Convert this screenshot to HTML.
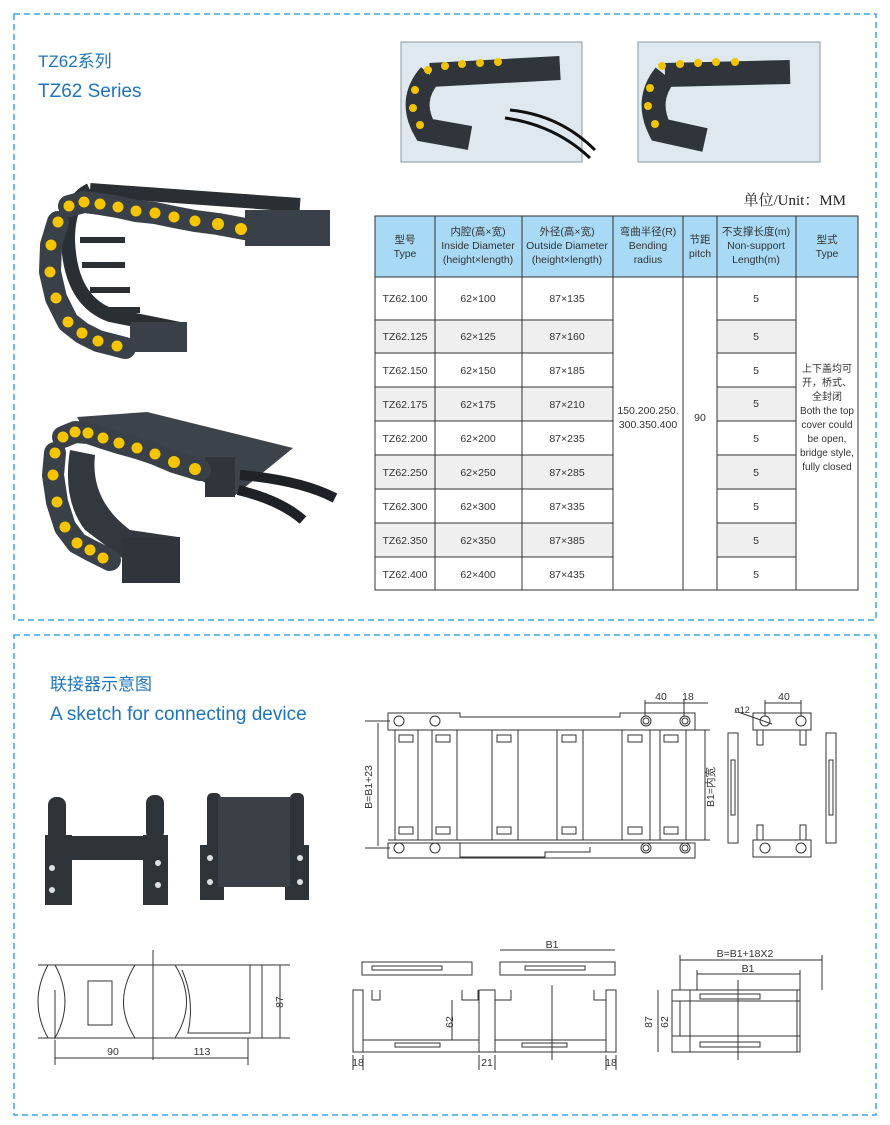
<!DOCTYPE html>
<html><head><meta charset="utf-8"><style>
body{margin:0;background:#fff;}
svg{display:block;font-family:"Liberation Sans","Noto Sans CJK SC",sans-serif;}
</style></head><body>
<svg width="890" height="1125" viewBox="0 0 890 1125" xmlns="http://www.w3.org/2000/svg">
<rect x="14" y="14" width="862" height="606" fill="none" stroke="#3aa6e0" stroke-width="1.5" stroke-dasharray="6,4"/>
<rect x="14" y="635" width="862" height="480" fill="none" stroke="#3aa6e0" stroke-width="1.5" stroke-dasharray="6,4"/>
<text x="38" y="67" font-size="17" fill="#1e74bd">TZ62系列</text>
<text x="38" y="97" font-size="19" fill="#1e74bd">TZ62 Series</text>
<text x="50" y="690" font-size="17" fill="#1e74bd">联接器示意图</text>
<text x="50" y="720" font-size="19" fill="#1e74bd">A sketch for connecting device</text>

<!-- top photos -->
<rect x="401" y="42" width="181" height="120" fill="#dfe8ef" stroke="#8a98a6"/>
<path d="M430 75 L560 68 M430 75 Q408 100 425 130 L470 138" stroke="#2f353b" stroke-width="24" fill="none"/>
<path d="M510 110 Q560 115 595 150" stroke="#111" stroke-width="3" fill="none"/>
<path d="M505 118 Q555 125 590 158" stroke="#111" stroke-width="3" fill="none"/>
<g fill="#f2c400"><circle cx="428" cy="70" r="4"/><circle cx="445" cy="66" r="4"/><circle cx="462" cy="64" r="4"/><circle cx="480" cy="63" r="4"/><circle cx="498" cy="62" r="4"/><circle cx="415" cy="90" r="4"/><circle cx="413" cy="108" r="4"/><circle cx="420" cy="125" r="4"/></g>
<rect x="638" y="42" width="182" height="120" fill="#dfe8ef" stroke="#8a98a6"/>
<path d="M665 75 L790 72 M665 75 Q645 100 660 130 L705 140" stroke="#2f353b" stroke-width="24" fill="none"/>
<g fill="#f2c400"><circle cx="662" cy="66" r="4"/><circle cx="680" cy="64" r="4"/><circle cx="698" cy="63" r="4"/><circle cx="716" cy="62" r="4"/><circle cx="735" cy="62" r="4"/><circle cx="650" cy="88" r="4"/><circle cx="648" cy="106" r="4"/><circle cx="655" cy="124" r="4"/></g>

<!-- chain photo 1 -->
<path d="M90 190 L300 205 M90 190 Q68 200 68 240 Q70 300 110 315 L185 330" stroke="#2a2f34" stroke-width="14" fill="none"/>
<path d="M80 240H125M82 265H125M90 290H130M100 310H140" stroke="#2a2f34" stroke-width="6"/>
<rect x="245" y="210" width="85" height="36" fill="#3a4047"/>
<rect x="130" y="322" width="57" height="30" fill="#3a4047"/>
<path d="M69 206 L84 202 L100 204 L118 207 L136 211 L155 213 L174 217 L195 221 L218 224 L245 229 M58 222 L51 245 L50 272 L56 298 L68 322 L82 333 L98 341 L125 348" stroke="#3a4047" stroke-width="22" fill="none" stroke-linejoin="round" stroke-linecap="round"/>
<g fill="#f4c500">
<circle cx="69" cy="206" r="5.5"/><circle cx="84" cy="202" r="5.5"/><circle cx="100" cy="204" r="5.5"/><circle cx="118" cy="207" r="5.5"/><circle cx="136" cy="211" r="5.5"/><circle cx="155" cy="213" r="5.5"/><circle cx="174" cy="217" r="5.5"/><circle cx="195" cy="221" r="5.5"/><circle cx="218" cy="224" r="6"/><circle cx="241" cy="229" r="6"/>
<circle cx="58" cy="222" r="5.5"/><circle cx="51" cy="245" r="5.5"/><circle cx="50" cy="272" r="5.5"/><circle cx="56" cy="298" r="5.5"/><circle cx="68" cy="322" r="5.5"/><circle cx="82" cy="333" r="5.5"/><circle cx="98" cy="341" r="5.5"/><circle cx="117" cy="346" r="5.5"/></g>

<!-- chain photo 2 -->
<polygon points="77,417 147,412 293,448 233,497 200,480 90,440" fill="#3d434a"/>
<path d="M70 450 Q62 500 85 530 L125 560 L178 565 L178 537 L130 530 Q90 500 95 455Z" fill="#33383e"/>
<rect x="205" y="457" width="30" height="40" fill="#2f353b"/>
<rect x="122" y="537" width="58" height="46" fill="#2f353b"/>
<path d="M240 475 Q300 480 335 498" stroke="#1e2226" stroke-width="10" fill="none"/>
<path d="M238 490 Q280 500 303 520" stroke="#1e2226" stroke-width="10" fill="none"/>
<path d="M63 437 L75 432 L88 433 L103 438 L119 443 L137 448 L155 454 L174 462 L200 470 M55 453 L53 475 L57 502 L65 527 L77 543 L90 550 L110 560" stroke="#3a4047" stroke-width="22" fill="none" stroke-linejoin="round" stroke-linecap="round"/>
<g fill="#f4c500">
<circle cx="63" cy="437" r="5.5"/><circle cx="75" cy="432" r="5.5"/><circle cx="88" cy="433" r="5.5"/><circle cx="103" cy="438" r="5.5"/><circle cx="119" cy="443" r="5.5"/><circle cx="137" cy="448" r="5.5"/><circle cx="155" cy="454" r="5.5"/><circle cx="174" cy="462" r="6"/><circle cx="195" cy="469" r="6"/>
<circle cx="55" cy="453" r="5.5"/><circle cx="53" cy="475" r="5.5"/><circle cx="57" cy="502" r="5.5"/><circle cx="65" cy="527" r="5.5"/><circle cx="77" cy="543" r="5.5"/><circle cx="90" cy="550" r="5.5"/><circle cx="103" cy="558" r="5.5"/></g>

<!-- unit -->
<text x="846" y="205" font-size="15" font-family="Liberation Serif,Noto Serif CJK SC,serif" text-anchor="end" fill="#222">单位/Unit：MM</text>

<!-- table -->
<g font-size="10.5" fill="#333" text-anchor="middle">
<rect x="375" y="216" width="483" height="61" fill="#a8d9f5"/>
<g fill="#efefef">
<rect x="375" y="320" width="238" height="33"/><rect x="717" y="320" width="79" height="33"/>
<rect x="375" y="387" width="238" height="34"/><rect x="717" y="387" width="79" height="34"/>
<rect x="375" y="455" width="238" height="34"/><rect x="717" y="455" width="79" height="34"/>
<rect x="375" y="523" width="238" height="34"/><rect x="717" y="523" width="79" height="34"/>
</g>
<g stroke="#333" stroke-width="1" fill="none">
<rect x="375" y="216" width="483" height="374"/>
<line x1="375" y1="277" x2="858" y2="277"/>
<path d="M435 216V590M522 216V590M613 216V590M683 216V590M717 216V590M796 216V590"/>
<path d="M375 320H613M375 353H613M375 387H613M375 421H613M375 455H613M375 489H613M375 523H613M375 557H613"/>
<path d="M717 320H796M717 353H796M717 387H796M717 421H796M717 455H796M717 489H796M717 523H796M717 557H796"/>
</g>
<text x="405" y="243">型号</text><text x="405" y="257">Type</text>
<text x="478" y="235">内腔(高×宽)</text><text x="478" y="249">Inside Diameter</text><text x="478" y="263">(height×length)</text>
<text x="567" y="235">外径(高×宽)</text><text x="567" y="249">Outside Diameter</text><text x="567" y="263">(height×length)</text>
<text x="648" y="235">弯曲半径(R)</text><text x="648" y="249">Bending</text><text x="648" y="263">radius</text>
<text x="700" y="243">节距</text><text x="700" y="257">pitch</text>
<text x="756" y="235">不支撑长度(m)</text><text x="756" y="249">Non-support</text><text x="756" y="263">Length(m)</text>
<text x="827" y="243">型式</text><text x="827" y="257">Type</text>
<g>
<text x="405" y="302">TZ62.100</text><text x="478" y="302">62×100</text><text x="567" y="302">87×135</text><text x="756" y="302">5</text>
<text x="405" y="340">TZ62.125</text><text x="478" y="340">62×125</text><text x="567" y="340">87×160</text><text x="756" y="340">5</text>
<text x="405" y="374">TZ62.150</text><text x="478" y="374">62×150</text><text x="567" y="374">87×185</text><text x="756" y="374">5</text>
<text x="405" y="408">TZ62.175</text><text x="478" y="408">62×175</text><text x="567" y="408">87×210</text><text x="756" y="407">5</text>
<text x="405" y="442">TZ62.200</text><text x="478" y="442">62×200</text><text x="567" y="442">87×235</text><text x="756" y="442">5</text>
<text x="405" y="476">TZ62.250</text><text x="478" y="476">62×250</text><text x="567" y="476">87×285</text><text x="756" y="476">5</text>
<text x="405" y="510">TZ62.300</text><text x="478" y="510">62×300</text><text x="567" y="510">87×335</text><text x="756" y="510">5</text>
<text x="405" y="544">TZ62.350</text><text x="478" y="544">62×350</text><text x="567" y="544">87×385</text><text x="756" y="544">5</text>
<text x="405" y="578">TZ62.400</text><text x="478" y="578">62×400</text><text x="567" y="578">87×435</text><text x="756" y="578">5</text>
</g>
<text x="648" y="414">150.200.250.</text><text x="648" y="428">300.350.400</text>
<text x="700" y="421">90</text>
<g font-size="10"><text x="827" y="372">上下盖均可</text><text x="827" y="386">开，桥式、</text><text x="827" y="400">全封闭</text>
<text x="827" y="414">Both the top</text><text x="827" y="428">cover could</text><text x="827" y="442">be open,</text><text x="827" y="456">bridge style,</text><text x="827" y="470">fully closed</text></g>
</g>

<!-- bracket photos -->
<g fill="#2e3338">
<rect x="45" y="835" width="27" height="70"/><rect x="48" y="797" width="18" height="45" rx="8"/>
<rect x="143" y="835" width="25" height="70"/><rect x="146" y="795" width="18" height="45" rx="8"/>
<rect x="65" y="836" width="82" height="24"/>
<rect x="200" y="845" width="24" height="55"/><rect x="285" y="845" width="24" height="55"/>
<rect x="207" y="793" width="14" height="60" rx="5"/><rect x="290" y="793" width="14" height="60" rx="5"/>
<rect x="218" y="797" width="72" height="90" fill="#3a4046"/>
</g>
<g fill="#fff" opacity=".85"><circle cx="52" cy="868" r="3"/><circle cx="52" cy="890" r="3"/><circle cx="158" cy="863" r="3"/><circle cx="158" cy="885" r="3"/><circle cx="210" cy="858" r="3"/><circle cx="210" cy="882" r="3"/><circle cx="300" cy="858" r="3"/><circle cx="300" cy="882" r="3"/></g>

<!-- technical drawings -->
<g stroke="#333" stroke-width="1" fill="none">
<path d="M388 713H460V717H620V713H695V730H388Z"/>
<path d="M388 843H695V858H388Z"/>
<path d="M460 843V857H545V852H590V847"/>
<line x1="388" y1="730" x2="710" y2="730"/><line x1="388" y1="840" x2="710" y2="840"/>
<circle cx="399" cy="721" r="5"/><circle cx="435" cy="721" r="5"/><circle cx="399" cy="848" r="5"/><circle cx="435" cy="848" r="5"/>
<circle cx="646" cy="721" r="5"/><circle cx="646" cy="721" r="3"/><circle cx="685" cy="721" r="5"/><circle cx="685" cy="721" r="3"/>
<circle cx="646" cy="848" r="5"/><circle cx="646" cy="848" r="3"/><circle cx="685" cy="848" r="5"/><circle cx="685" cy="848" r="3"/>
<path d="M395 730V840M418 730V840M432 730V840M457 730V840M492 730V840M518 730V840M557 730V840M583 730V840M622 730V840M650 730V840M660 730V840M686 730V840"/>
<rect x="399" y="735" width="14" height="7"/><rect x="436" y="735" width="14" height="7"/><rect x="497" y="735" width="14" height="7"/><rect x="562" y="735" width="14" height="7"/><rect x="628" y="735" width="14" height="7"/><rect x="664" y="735" width="14" height="7"/>
<rect x="399" y="827" width="14" height="7"/><rect x="436" y="827" width="14" height="7"/><rect x="497" y="827" width="14" height="7"/><rect x="562" y="827" width="14" height="7"/><rect x="628" y="827" width="14" height="7"/><rect x="664" y="827" width="14" height="7"/>
<path d="M365 721H390M365 848H390M378 723V846M705 730V840"/>
<path d="M645 700V716M684 700V716M645 703H684M684 703H708"/>
<rect x="728" y="733" width="10" height="110"/><rect x="731" y="760" width="4" height="55"/>
<rect x="826" y="733" width="10" height="110"/><rect x="829" y="760" width="4" height="55"/>
<rect x="753" y="713" width="58" height="17"/><circle cx="765" cy="721" r="5"/><circle cx="801" cy="721" r="5"/>
<path d="M757 730V745H763V730M800 730V745H806V730M757 840V825H763V840M800 840V825H806V840"/>
<rect x="753" y="840" width="58" height="17"/><circle cx="765" cy="848" r="5"/><circle cx="801" cy="848" r="5"/>
<path d="M765 700V716M801 700V716M765 703H801M738 712L772 724"/>
<path d="M38 965H290M38 1038H290"/>
<path d="M48 965Q28 1002 48 1038M55 965Q75 1002 55 1038V990"/>
<rect x="88" y="981" width="24" height="44"/>
<path d="M135 965Q112 1002 135 1038M175 965Q198 1002 175 1038"/>
<path d="M182 965H250V1033H188Q195 1000 182 970"/>
<path d="M262 965V1038M280 965V1038M55 1040V1065M153 950V1060M248 1038V1065M55 1058H248"/>
<rect x="362" y="962" width="110" height="13"/><rect x="500" y="962" width="115" height="13"/>
<rect x="372" y="966" width="70" height="4"/><rect x="525" y="966" width="60" height="4"/>
<path d="M500 950H615"/>
<rect x="353" y="990" width="10" height="62"/><rect x="479" y="990" width="16" height="62"/><rect x="606" y="990" width="10" height="62"/>
<rect x="363" y="1040" width="116" height="12"/><rect x="495" y="1040" width="111" height="12"/>
<rect x="395" y="1043" width="45" height="4"/><rect x="522" y="1043" width="45" height="4"/>
<path d="M372 990V1000H380V990M462 990V1000H478V990M495 990V1000H511V990M594 990V1000H606V990M552 985V1060M452 1000V1040M353 1055V1070M363 1055V1070M479 1055V1070M495 1055V1070M606 1055V1070M616 1055V1070"/>
<rect x="672" y="990" width="125" height="62"/><rect x="690" y="990" width="110" height="62"/>
<rect x="700" y="994" width="60" height="5"/><rect x="700" y="1042" width="60" height="5"/>
<path d="M672 1001H800M672 1036H800M680 960H822M697 974H800M680 955V990M822 955V990M697 970V990M800 970V990M658 990V1052M672 1001H680V1036M738 980V1060"/>
</g>
<g font-size="10.5" fill="#333" text-anchor="middle">
<text x="661" y="700">40</text><text x="688" y="700">18</text><text x="784" y="700">40</text><text x="742" y="713" font-size="9">ø12</text>
<text transform="translate(372,787) rotate(-90)">B=B1+23</text>
<text transform="translate(714,787) rotate(-90)">B1=内宽</text>
<text x="113" y="1055">90</text><text x="202" y="1055">113</text>
<text transform="translate(283,1002) rotate(-90)">87</text>
<text x="552" y="948">B1</text><text x="358" y="1066">18</text><text x="487" y="1066">21</text><text x="611" y="1066">18</text>
<text transform="translate(453,1022) rotate(-90)">62</text>
<text x="745" y="957">B=B1+18X2</text><text x="748" y="972">B1</text>
<text transform="translate(652,1022) rotate(-90)">87</text><text transform="translate(668,1022) rotate(-90)">62</text>
</g>
</svg>
</body></html>
